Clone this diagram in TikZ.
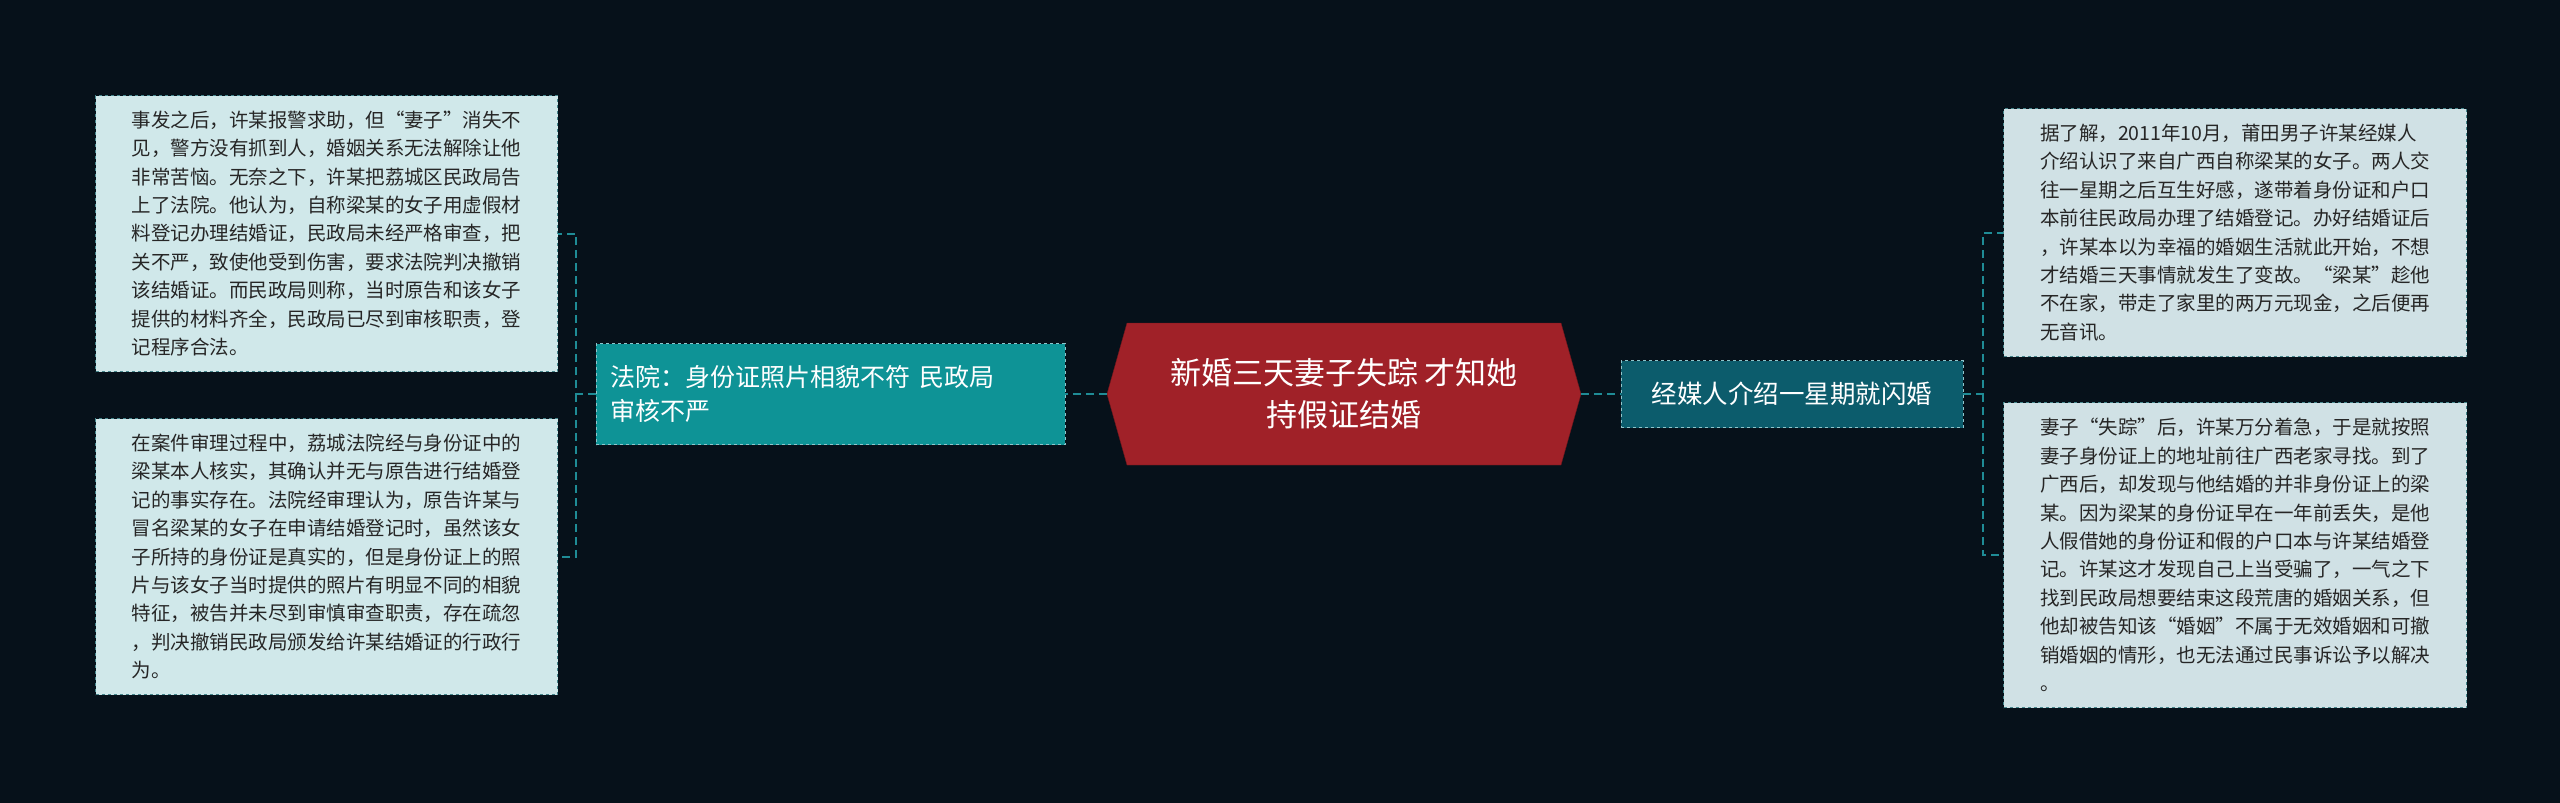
\documentclass[tikz,border=0pt]{standalone}
\usepackage{fontspec}
\setmainfont{Noto Sans CJK SC}
\usetikzlibrary{shapes.geometric}
\definecolor{bg}{HTML}{06111A}
\definecolor{redc}{HTML}{A02128}
\definecolor{tealc}{HTML}{0E9396}
\definecolor{tealr}{HTML}{0C5C6C}
\definecolor{boxl}{HTML}{D0E8EA}
\definecolor{boxr}{HTML}{D0E1E5}
\definecolor{linec}{HTML}{1F8C96}
\tikzset{
  leaf/.style={draw=linec!60!gray, dashed, line width=1pt, inner sep=12pt, anchor=north west, align=left, font=\fontsize{19.5}{28.4}\selectfont, text=black!85},
  conn/.style={draw=linec, dashed, dash pattern=on 8pt off 5pt, line width=2pt},
}
\begin{document}
\begin{tikzpicture}[x=1pt,y=-1pt]
\fill[bg] (0,0) rectangle (2560,803);
\useasboundingbox (0,0) rectangle (2560,803);
% center
\fill[redc, draw=redc!70!black] (1127,323) -- (1561,323) -- (1581,394) -- (1561,465) -- (1127,465) -- (1107,394) -- cycle;
\node[text=white, align=center, font=\fontsize{31}{42}\selectfont] (c) at (1344,394) {新婚三天妻子失踪 才知她\\持假证结婚};
\coordinate (cl) at (1107,394);
\coordinate (cr) at (1581,394);
% left main
\node[fill=tealc, draw=linec!50!white, dashed, minimum width=469, minimum height=101, text width=440, align=left, text=white, font=\fontsize{25}{34}\selectfont, anchor=west] (l) at (596,394) {法院：身份证照片相貌不符 民政局\\审核不严};
\node[fill=tealr, draw=linec!50!white, dashed, minimum width=342, minimum height=67, align=center, text=white, font=\fontsize{25.5}{34}\selectfont, anchor=west] (r) at (1621,394) {经媒人介绍一星期就闪婚};
\draw[conn] (cl) -- (l.east);
\draw[conn] (cr) -- (r.west);
% leaves
\node[leaf, fill=boxl, minimum width=462, minimum height=276] (l1) at (95,95) {事发之后，许某报警求助，但“妻子”消失不\\见，警方没有抓到人，婚姻关系无法解除让他\\非常苦恼。无奈之下，许某把荔城区民政局告\\上了法院。他认为，自称梁某的女子用虚假材\\料登记办理结婚证，民政局未经严格审查，把\\关不严，致使他受到伤害，要求法院判决撤销\\该结婚证。而民政局则称，当时原告和该女子\\提供的材料齐全，民政局已尽到审核职责，登\\记程序合法。};
\node[leaf, fill=boxl, minimum width=462, minimum height=276] (l2) at (95,418) {在案件审理过程中，荔城法院经与身份证中的\\梁某本人核实，其确认并无与原告进行结婚登\\记的事实存在。法院经审理认为，原告许某与\\冒名梁某的女子在申请结婚登记时，虽然该女\\子所持的身份证是真实的，但是身份证上的照\\片与该女子当时提供的照片有明显不同的相貌\\特征，被告并未尽到审慎审查职责，存在疏忽\\，判决撤销民政局颁发给许某结婚证的行政行\\为。};
\node[leaf, fill=boxr, minimum width=463, minimum height=248] (r1) at (2003,108) {据了解，2011年10月，莆田男子许某经媒人\\介绍认识了来自广西自称梁某的女子。两人交\\往一星期之后互生好感，遂带着身份证和户口\\本前往民政局办理了结婚登记。办好结婚证后\\，许某本以为幸福的婚姻生活就此开始，不想\\才结婚三天事情就发生了变故。“梁某”趁他\\不在家，带走了家里的两万元现金，之后便再\\无音讯。};
\node[leaf, fill=boxr, minimum width=463, minimum height=305] (r2) at (2003,402) {妻子“失踪”后，许某万分着急，于是就按照\\妻子身份证上的地址前往广西老家寻找。到了\\广西后，却发现与他结婚的并非身份证上的梁\\某。因为梁某的身份证早在一年前丢失，是他\\人假借她的身份证和假的户口本与许某结婚登\\记。许某这才发现自己上当受骗了，一气之下\\找到民政局想要结束这段荒唐的婚姻关系，但\\他却被告知该“婚姻”不属于无效婚姻和可撤\\销婚姻的情形，也无法通过民事诉讼予以解决\\。};
\coordinate (lj) at (576,394);
\coordinate (rj) at (1983,394);
\draw[conn] (l.west) -- (lj) |- (l1.east);
\draw[conn] (lj) |- (l2.east);
\draw[conn] (r.east) -- (rj) |- (r1.west);
\draw[conn] (rj) |- (r2.west);
\end{tikzpicture}
\end{document}
